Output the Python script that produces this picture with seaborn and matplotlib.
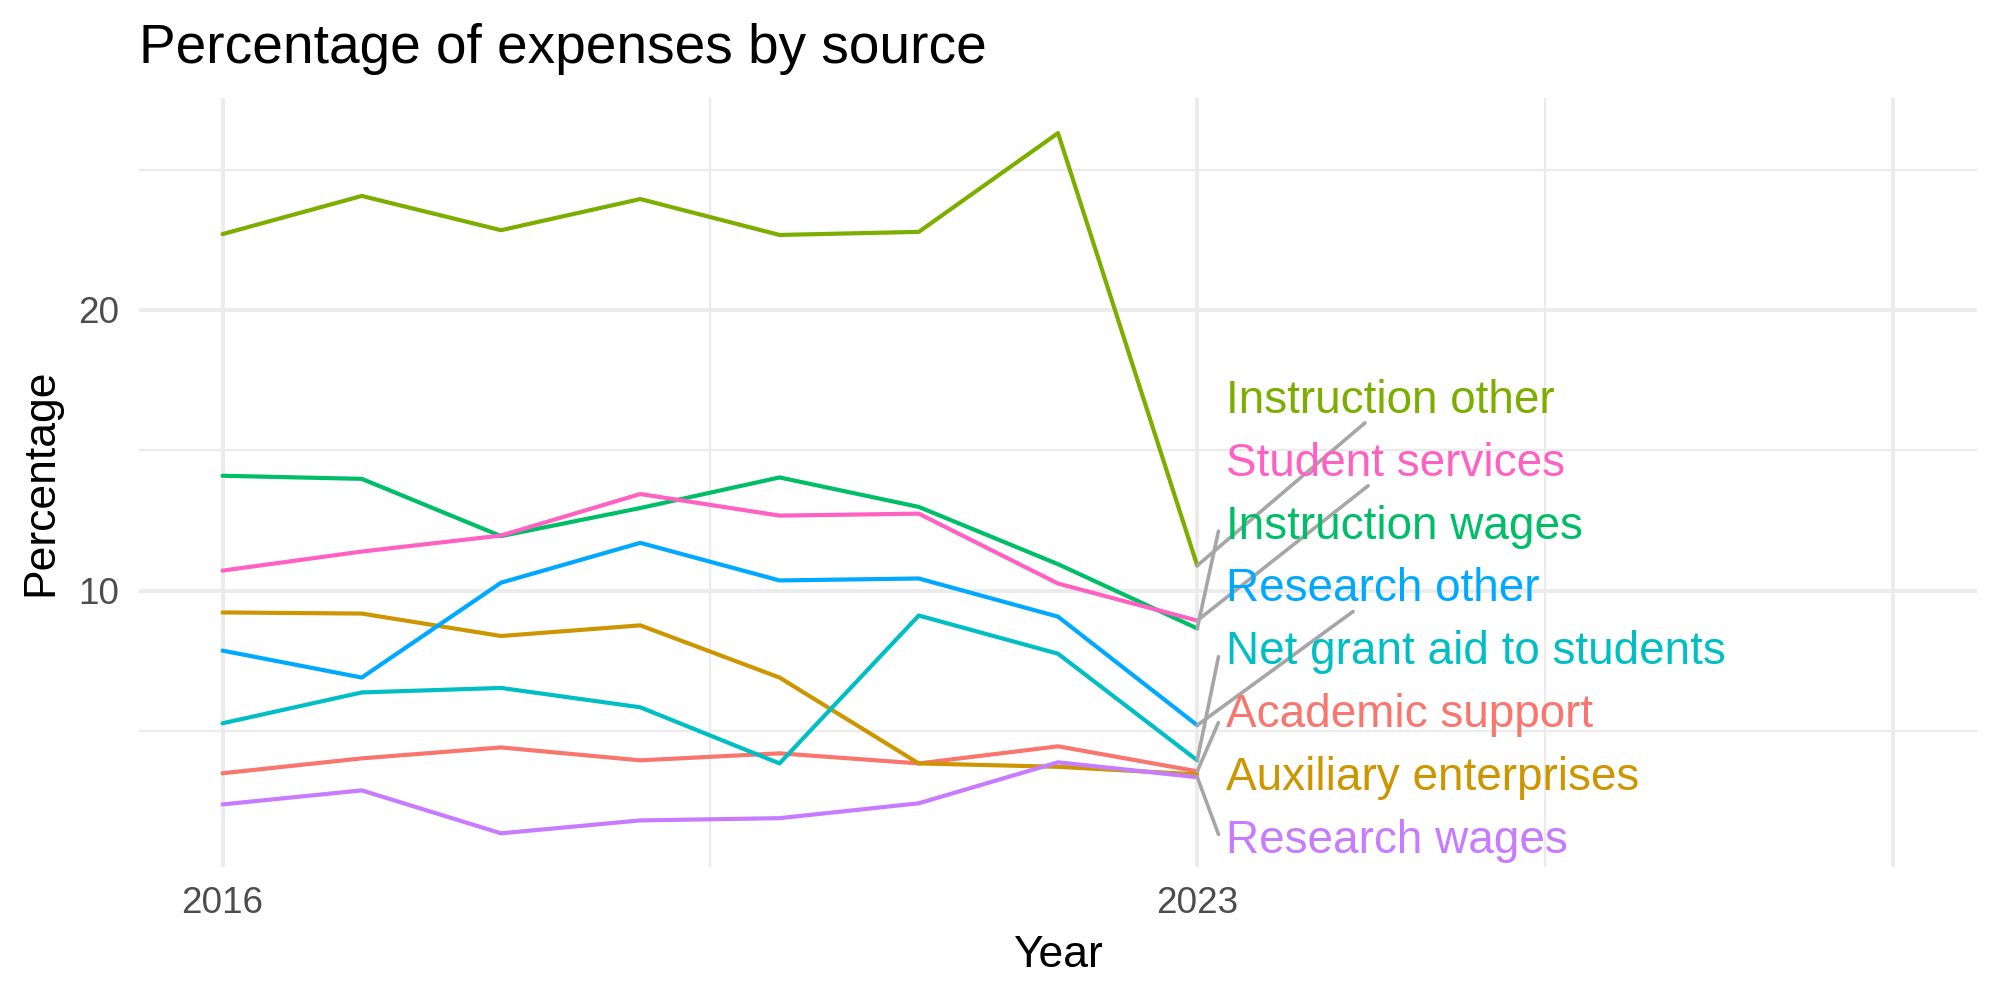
import pandas as pd
import seaborn as sns
import matplotlib.pyplot as plt
import numpy as np

# Values
years = [2016, 2017, 2018, 2019, 2020, 2021, 2022, 2023]
academic_support = [3.49, 4.02, 4.41, 3.95, 4.20, 3.84, 4.45, 3.56]
auxiliary_enterprises = [9.22, 9.18, 8.38, 8.76, 6.90, 3.84, 3.72, 3.45]
instruction_other = [22.70, 24.06, 22.84, 23.95, 22.67, 22.78, 26.30, 10.89]
instruction_wages = [14.09, 13.98, 11.94, 12.94, 14.03, 12.98, 10.94, 8.65]
net_grant_aid = [5.27, 6.37, 6.53, 5.84, 3.84, 9.11, 7.75, 3.95]
research_other = [7.86, 6.90, 10.28, 11.70, 10.36, 10.43, 9.07, 5.20]
research_wages = [2.38, 2.88, 1.35, 1.81, 1.89, 2.42, 3.88, 3.35]
student_services = [10.71, 11.39, 11.96, 13.44, 12.67, 12.74, 10.25, 8.93]

sources = ['Academic support', 'Auxiliary enterprises', 'Instruction other',
           'Instruction wages', 'Net grant aid to students', 'Research other',
           'Research wages', 'Student services']
series = [academic_support, auxiliary_enterprises, instruction_other,
          instruction_wages, net_grant_aid, research_other,
          research_wages, student_services]
hue_colors = ['#F8766D', '#CD9600', '#7CAE00', '#00BE67',
              '#00BFC4', '#00A9FF', '#C77CFF', '#FF61C3']
palette = dict(zip(sources, hue_colors))

# Long format table
rows = []
for src, vals in zip(sources, series):
    for yr, v in zip(years, vals):
        rows.append({'year': yr, 'pct': v, 'source': src})
df = pd.DataFrame(rows)

sns.set_theme(style='white')
plt.rcParams['font.family'] = ['Liberation Sans', 'DejaVu Sans']

fig, ax = plt.subplots(figsize=(10, 5), dpi=200)
fig.subplots_adjust(left=0.0695, right=0.9885, top=0.902, bottom=0.133)

sns.lineplot(data=df, x='year', y='pct', hue='source', palette=palette,
             linewidth=1.5, legend=False, ax=ax, zorder=2)

ax.set_xlim(2015.4, 2028.6)
ax.set_ylim(0.15, 27.55)

ax.set_xticks([2016, 2023, 2028])
ax.set_xticklabels(['2016', '2023', ''])
ax.set_xticks([2019.5, 2025.5], minor=True)
ax.set_yticks([10, 20])
ax.set_yticks([5, 15, 25], minor=True)
ax.grid(which='major', color='#EBEBEB', linewidth=1.4)
ax.grid(which='minor', color='#EBEBEB', linewidth=0.8)
ax.set_axisbelow(True)
ax.tick_params(which='both', length=0, labelsize=13.3, labelcolor='#4D4D4D')
ax.tick_params(axis='x', pad=7)
ax.tick_params(axis='y', pad=7)
for s in ax.spines.values():
    s.set_visible(False)

ax.set_xlabel('Year', fontsize=16, color='black', labelpad=5)
ax.set_ylabel('Percentage', fontsize=16, color='black', labelpad=6)
ax.set_title('Percentage of expenses by source', loc='left', fontsize=19.8,
             color='black', pad=12.5)

# Direct labels at the last year, stacked in order of last value
last = df[df.year == years[-1]].sort_values('pct', ascending=False)
texts = []
for rank, (src, val) in enumerate(zip(last.source, last.pct)):
    t = ax.text(years[-1] + 0.21, 16.33 - 2.24 * rank, src, color=palette[src],
                fontsize=16.5, ha='left', va='baseline', zorder=4)
    texts.append((t, val))

fig.canvas.draw()
renderer = fig.canvas.get_renderer()
inv = ax.transData.inverted()
for t, val in texts:
    bb = t.get_window_extent(renderer)
    x0, x1, y0, y1 = bb.x0 - 8, bb.x1 + 8, bb.y0, bb.y1
    cx, cy = (x0 + x1) / 2, (y0 + y1) / 2
    px, py = ax.transData.transform((years[-1], val))
    if abs(cy - py) > 120:
        # aim at the label centre, stop at the box edge
        ey = y0 if py < y0 else y1
        ex = px + (ey - py) / (cy - py) * (cx - px)
        if ex < x0:
            ex = x0
            ey = py + (x0 - px) / (cx - px) * (cy - py)
    else:
        # connect to the left side, nudged toward the middle
        ex = x0
        edge_y = min(max(py, y0), y1)
        d = np.hypot(ex - px, edge_y - py)
        altd = np.hypot(ex - px, cy - py)
        ey = edge_y + (cy - edge_y) * d / altd
    if np.hypot(ex - px, ey - py) > 25:
        dx, dy = inv.transform((ex, ey))
        ax.plot([years[-1], dx], [val, dy], color='#A6A6A6', linewidth=1.3,
                zorder=3, clip_on=False)

fig.savefig('out.png', dpi=200, facecolor='white')
